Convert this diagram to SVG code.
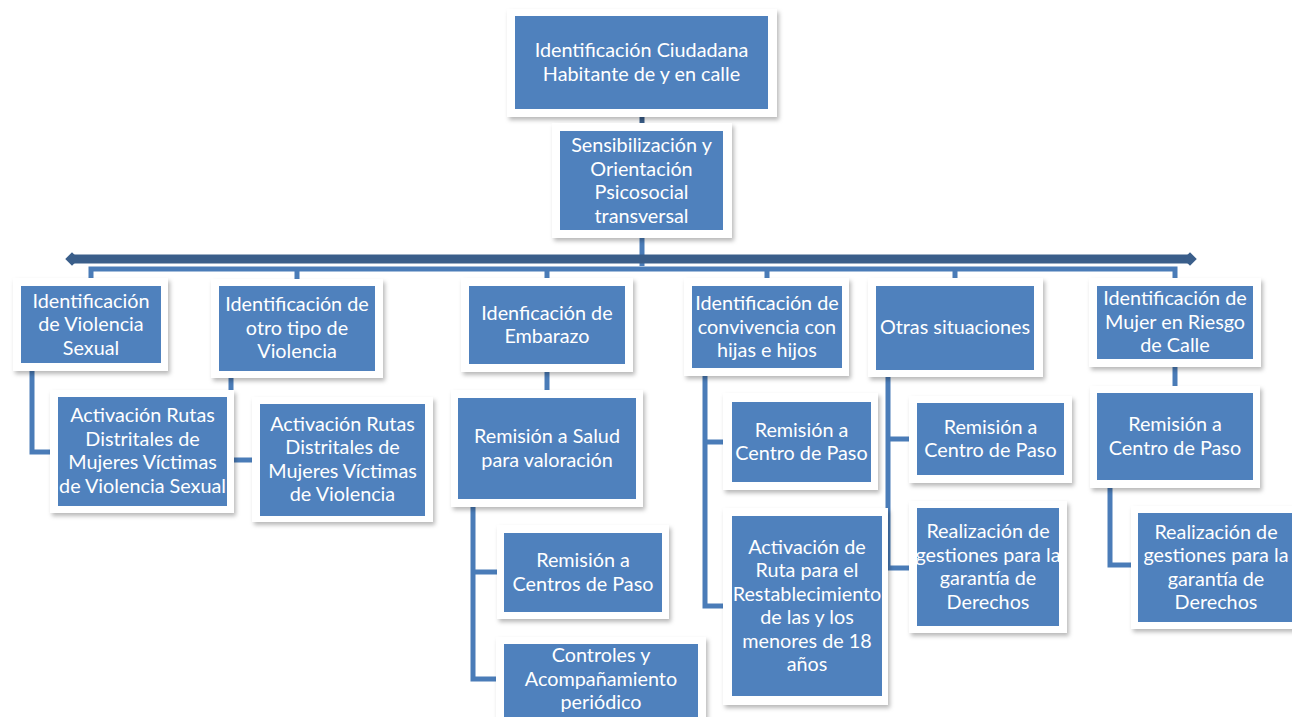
<svg xmlns="http://www.w3.org/2000/svg" width="1292" height="717" viewBox="0 0 1292 717">
<defs>
<filter id="sh" x="-10%" y="-10%" width="125%" height="130%">
<feDropShadow dx="2" dy="3" stdDeviation="2.2" flood-color="#000" flood-opacity="0.28"/>
</filter>
<marker id="dia" viewBox="0 0 12 12" refX="6" refY="6" markerWidth="1.5" markerHeight="1.5" markerUnits="strokeWidth" orient="auto">
<path d="M0 6 L6 0 L12 6 L6 12 Z" fill="#3A5E8A"/>
</marker>
</defs>
<style>
.o{fill:#ffffff;filter:url(#sh)}
.i{fill:#4F81BD}
.t{font-family:Lato,"Liberation Sans","DejaVu Sans",sans-serif;font-size:19.8px;fill:#ffffff;text-anchor:middle}
.c{fill:none;stroke:#4A7CB8;stroke-width:5}
.d{fill:none;stroke:#3A5E8A;stroke-width:9}
</style>
<rect width="1292" height="717" fill="#ffffff"/>
<g id="connectors">
<path class="d" d="M642 117 V123" style="stroke-width:5"/>
<path class="c" d="M642 236 V266"/>
<path class="d" d="M72 259 H1190" marker-start="url(#dia)" marker-end="url(#dia)"/>
<path class="c" d="M91 280 V269 H1175 V280"/>
<path class="c" d="M297 269 V281 M547 269 V280 M767 269 V280 M955 269 V280"/>
<path class="c" d="M32 368 V452 H52"/>
<path class="c" d="M231 375 V460 H254"/>
<path class="c" d="M547 370 V392"/>
<path class="c" d="M473 505 V679 H498 M473 572 H499"/>
<path class="c" d="M705 374 V606 H725 M705 442 H725"/>
<path class="c" d="M888 375 V568 H911 M888 439 H911"/>
<path class="c" d="M1175 365 V388"/>
<path class="c" d="M1110 486 V565 H1133"/>
</g>
<g id="n0"><rect class="o" x="507" y="9" width="270" height="108"/><rect class="i" x="515" y="16" width="253" height="93"/>
<text class="t" x="641.5" y="57">Identificación Ciudadana</text><text class="t" x="641.5" y="81">Habitante de y en calle</text></g>
<g id="n1"><rect class="o" x="552" y="123" width="180" height="115"/><rect class="i" x="560" y="131" width="163" height="99"/>
<text class="t" x="641.5" y="152">Sensibilización y</text><text class="t" x="641.5" y="175.5">Orientación</text><text class="t" x="641.5" y="199">Psicosocial</text><text class="t" x="641.5" y="222.5">transversal</text></g>
<g id="c1"><rect class="o" x="13" y="278" width="155" height="93"/><rect class="i" x="21" y="286" width="140" height="77"/>
<text class="t" x="91" y="307.5">Identificación</text><text class="t" x="91" y="331">de Violencia</text><text class="t" x="91" y="354.5">Sexual</text></g>
<g id="c2"><rect class="o" x="211" y="279" width="172" height="99"/><rect class="i" x="219" y="286" width="156" height="85"/>
<text class="t" x="297" y="311">Identificación de</text><text class="t" x="297" y="334.5">otro tipo de</text><text class="t" x="297" y="358">Violencia</text></g>
<g id="c3"><rect class="o" x="461" y="278" width="172" height="94"/><rect class="i" x="469" y="286" width="156" height="78"/>
<text class="t" x="547" y="319.5">Idenficación de</text><text class="t" x="547" y="343">Embarazo</text></g>
<g id="c4"><rect class="o" x="684" y="278" width="165" height="98"/><rect class="i" x="692" y="286" width="150" height="82"/>
<text class="t" x="767" y="310">Identificación de</text><text class="t" x="767" y="333.5">convivencia con</text><text class="t" x="767" y="357">hijas e hijos</text></g>
<g id="c5"><rect class="o" x="868" y="278" width="175" height="99"/><rect class="i" x="876" y="286" width="158" height="84"/>
<text class="t" x="955" y="334">Otras situaciones</text></g>
<g id="c6"><rect class="o" x="1089" y="278" width="172" height="89"/><rect class="i" x="1097" y="286" width="156" height="73"/>
<text class="t" x="1175" y="305">Identificación de</text><text class="t" x="1175" y="328.5">Mujer en Riesgo</text><text class="t" x="1175" y="352">de Calle</text></g>
<g id="c1a"><rect class="o" x="50" y="390" width="184" height="123"/><rect class="i" x="58" y="397" width="169" height="109"/>
<text class="t" x="142.5" y="422">Activación Rutas</text><text class="t" x="142.5" y="445.5">Distritales de</text><text class="t" x="142.5" y="469">Mujeres Víctimas</text><text class="t" x="142.5" y="492.5">de Violencia Sexual</text></g>
<g id="c2a"><rect class="o" x="252" y="397" width="181" height="125"/><rect class="i" x="260" y="404" width="165" height="112"/>
<text class="t" x="342.5" y="430.5">Activación Rutas</text><text class="t" x="342.5" y="454">Distritales de</text><text class="t" x="342.5" y="477.5">Mujeres Víctimas</text><text class="t" x="342.5" y="501">de Violencia</text></g>
<g id="c3a"><rect class="o" x="451" y="390" width="192" height="117"/><rect class="i" x="458" y="398" width="178" height="101"/>
<text class="t" x="547" y="443">Remisión a Salud</text><text class="t" x="547" y="466.5">para valoración</text></g>
<g id="c3b"><rect class="o" x="497" y="525" width="172" height="94"/><rect class="i" x="504" y="533" width="158" height="79"/>
<text class="t" x="583" y="567">Remisión a</text><text class="t" x="583" y="590.5">Centros de Paso</text></g>
<g id="c3c"><rect class="o" x="496" y="637" width="210" height="90"/><rect class="i" x="504" y="644" width="194" height="80"/>
<text class="t" x="601" y="662">Controles y</text><text class="t" x="601" y="685.5">Acompañamiento</text><text class="t" x="601" y="709">periódico</text></g>
<g id="c4a"><rect class="o" x="723" y="393" width="155" height="97"/><rect class="i" x="732" y="402" width="139" height="80"/>
<text class="t" x="801.5" y="436.5">Remisión a</text><text class="t" x="801.5" y="460">Centro de Paso</text></g>
<g id="c4b"><rect class="o" x="723" y="508" width="165" height="197"/><rect class="i" x="732" y="516" width="150" height="180"/>
<text class="t" x="807" y="553.5">Activación de</text><text class="t" x="807" y="577">Ruta para el</text><text class="t" x="807" y="600.5">Restablecimiento</text><text class="t" x="807" y="624">de las y los</text><text class="t" x="807" y="647.5">menores de 18</text><text class="t" x="807" y="671">años</text></g>
<g id="c5a"><rect class="o" x="909" y="396" width="163" height="87"/><rect class="i" x="917" y="403" width="147" height="72"/>
<text class="t" x="990.5" y="433.5">Remisión a</text><text class="t" x="990.5" y="457">Centro de Paso</text></g>
<g id="c5b"><rect class="o" x="909" y="501" width="158" height="132"/><rect class="i" x="917" y="508" width="142" height="118"/>
<text class="t" x="988" y="538">Realización de</text><text class="t" x="988" y="561.5">gestiones para la</text><text class="t" x="988" y="585">garantía de</text><text class="t" x="988" y="608.5">Derechos</text></g>
<g id="c6a"><rect class="o" x="1090" y="386" width="170" height="102"/><rect class="i" x="1097" y="393" width="156" height="87"/>
<text class="t" x="1175" y="431">Remisión a</text><text class="t" x="1175" y="454.5">Centro de Paso</text></g>
<g id="c6b"><rect class="o" x="1131" y="506" width="170" height="123"/><rect class="i" x="1138" y="513" width="156" height="109"/>
<text class="t" x="1216" y="538.5">Realización de</text><text class="t" x="1216" y="562">gestiones para la</text><text class="t" x="1216" y="585.5">garantía de</text><text class="t" x="1216" y="609">Derechos</text></g>
</svg>
